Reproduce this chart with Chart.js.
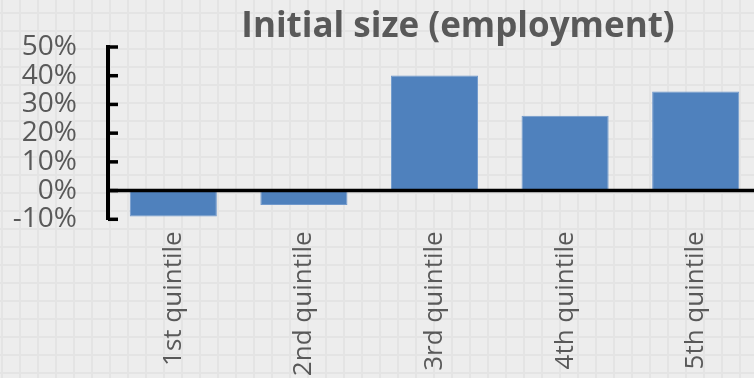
<!DOCTYPE html>
<html>
<head>
<meta charset="utf-8">
<script src="https://cdn.jsdelivr.net/npm/chart.js@4/dist/chart.umd.min.js"></script>
<style>
  html, body { margin: 0; padding: 0; overflow: hidden; }
  body {
    width: 754px; height: 378px;
    background-color: #ededed;
    background-image:
      linear-gradient(to right, #e4e4e4 0, #e4e4e4 2px, transparent 2px),
      linear-gradient(to bottom, #e4e4e4 0, #e4e4e4 2px, transparent 2px);
    background-size: 18px 18px;
    background-position: 1px 12px;
  }
  #wrap { position: absolute; left: 0; top: 0; width: 761px; height: 378px; }
</style>
</head>
<body>
<div id="wrap"><canvas id="chart"></canvas></div>
<script>
// Change in share by initial employment size quintile
const categories = ['1st quintile', '2nd quintile', '3rd quintile', '4th quintile', '5th quintile'];
const values = [-0.090, -0.050, 0.401, 0.261, 0.345];
const yTicks = [-0.1, 0, 0.1, 0.2, 0.3, 0.4, 0.5];
const titleText = 'Initial size (employment)';

const FONT = '"Open Sans", Lato, sans-serif';
const TEXT = '#595959';

// Title, black zero line and inward tick marks on the value axis
const decor = {
  id: 'decor',
  afterDatasetsDraw(chart) {
    const { ctx, chartArea, scales: { y } } = chart;
    ctx.save();
    ctx.strokeStyle = '#000';
    ctx.lineWidth = 3.5;
    const y0 = y.getPixelForValue(0);
    ctx.beginPath();
    ctx.moveTo(chartArea.left, y0);
    ctx.lineTo(chartArea.right, y0);
    ctx.stroke();
    yTicks.forEach(v => {
      const py = y.getPixelForValue(v);
      ctx.beginPath();
      ctx.moveTo(chartArea.left, py);
      ctx.lineTo(chartArea.left + 10, py);
      ctx.stroke();
    });
    ctx.restore();
  },
  afterDraw(chart) {
    const { ctx, chartArea } = chart;
    ctx.save();
    ctx.font = 'bold 35px ' + FONT;
    ctx.fillStyle = TEXT;
    ctx.textAlign = 'center';
    ctx.textBaseline = 'alphabetic';
    ctx.fillText(titleText, chartArea.left + 350, 37);
    ctx.restore();
  }
};

new Chart(document.getElementById('chart'), {
  type: 'bar',
  data: {
    labels: categories,
    datasets: [{
      data: values,
      backgroundColor: '#4f81bd',
      borderColor: '#7199cc',
      borderWidth: 1,
      barPercentage: 0.667,
      categoryPercentage: 1.0
    }]
  },
  options: {
    responsive: true,
    maintainAspectRatio: false,
    animation: false,
    devicePixelRatio: 1,
    layout: { padding: { top: 47, left: 0, right: 0, bottom: 0 } },
    plugins: { legend: { display: false }, title: { display: false }, tooltip: { enabled: false } },
    scales: {
      x: {
        grid: { display: false, drawTicks: false },
        border: { display: false },
        ticks: {
          minRotation: 90, maxRotation: 90, padding: 12, autoSkip: false,
          color: TEXT, font: { family: FONT, size: 26 }
        },
        afterFit(scale) { scale.height = 158.7; }
      },
      y: {
        min: -0.1, max: 0.5,
        afterBuildTicks(scale) { scale.ticks = yTicks.map(v => ({ value: v })); },
        grid: { drawOnChartArea: false, drawTicks: true, tickLength: 10, tickColor: 'transparent' },
        border: { display: true, color: '#000', width: 4 },
        ticks: {
          padding: 21, autoSkip: false,
          color: TEXT, font: { family: FONT, size: 28 },
          callback: v => Math.round(v * 100) + '%'
        },
        afterFit(scale) { scale.width = 108; }
      }
    }
  },
  plugins: [decor]
});
</script>
</body>
</html>
